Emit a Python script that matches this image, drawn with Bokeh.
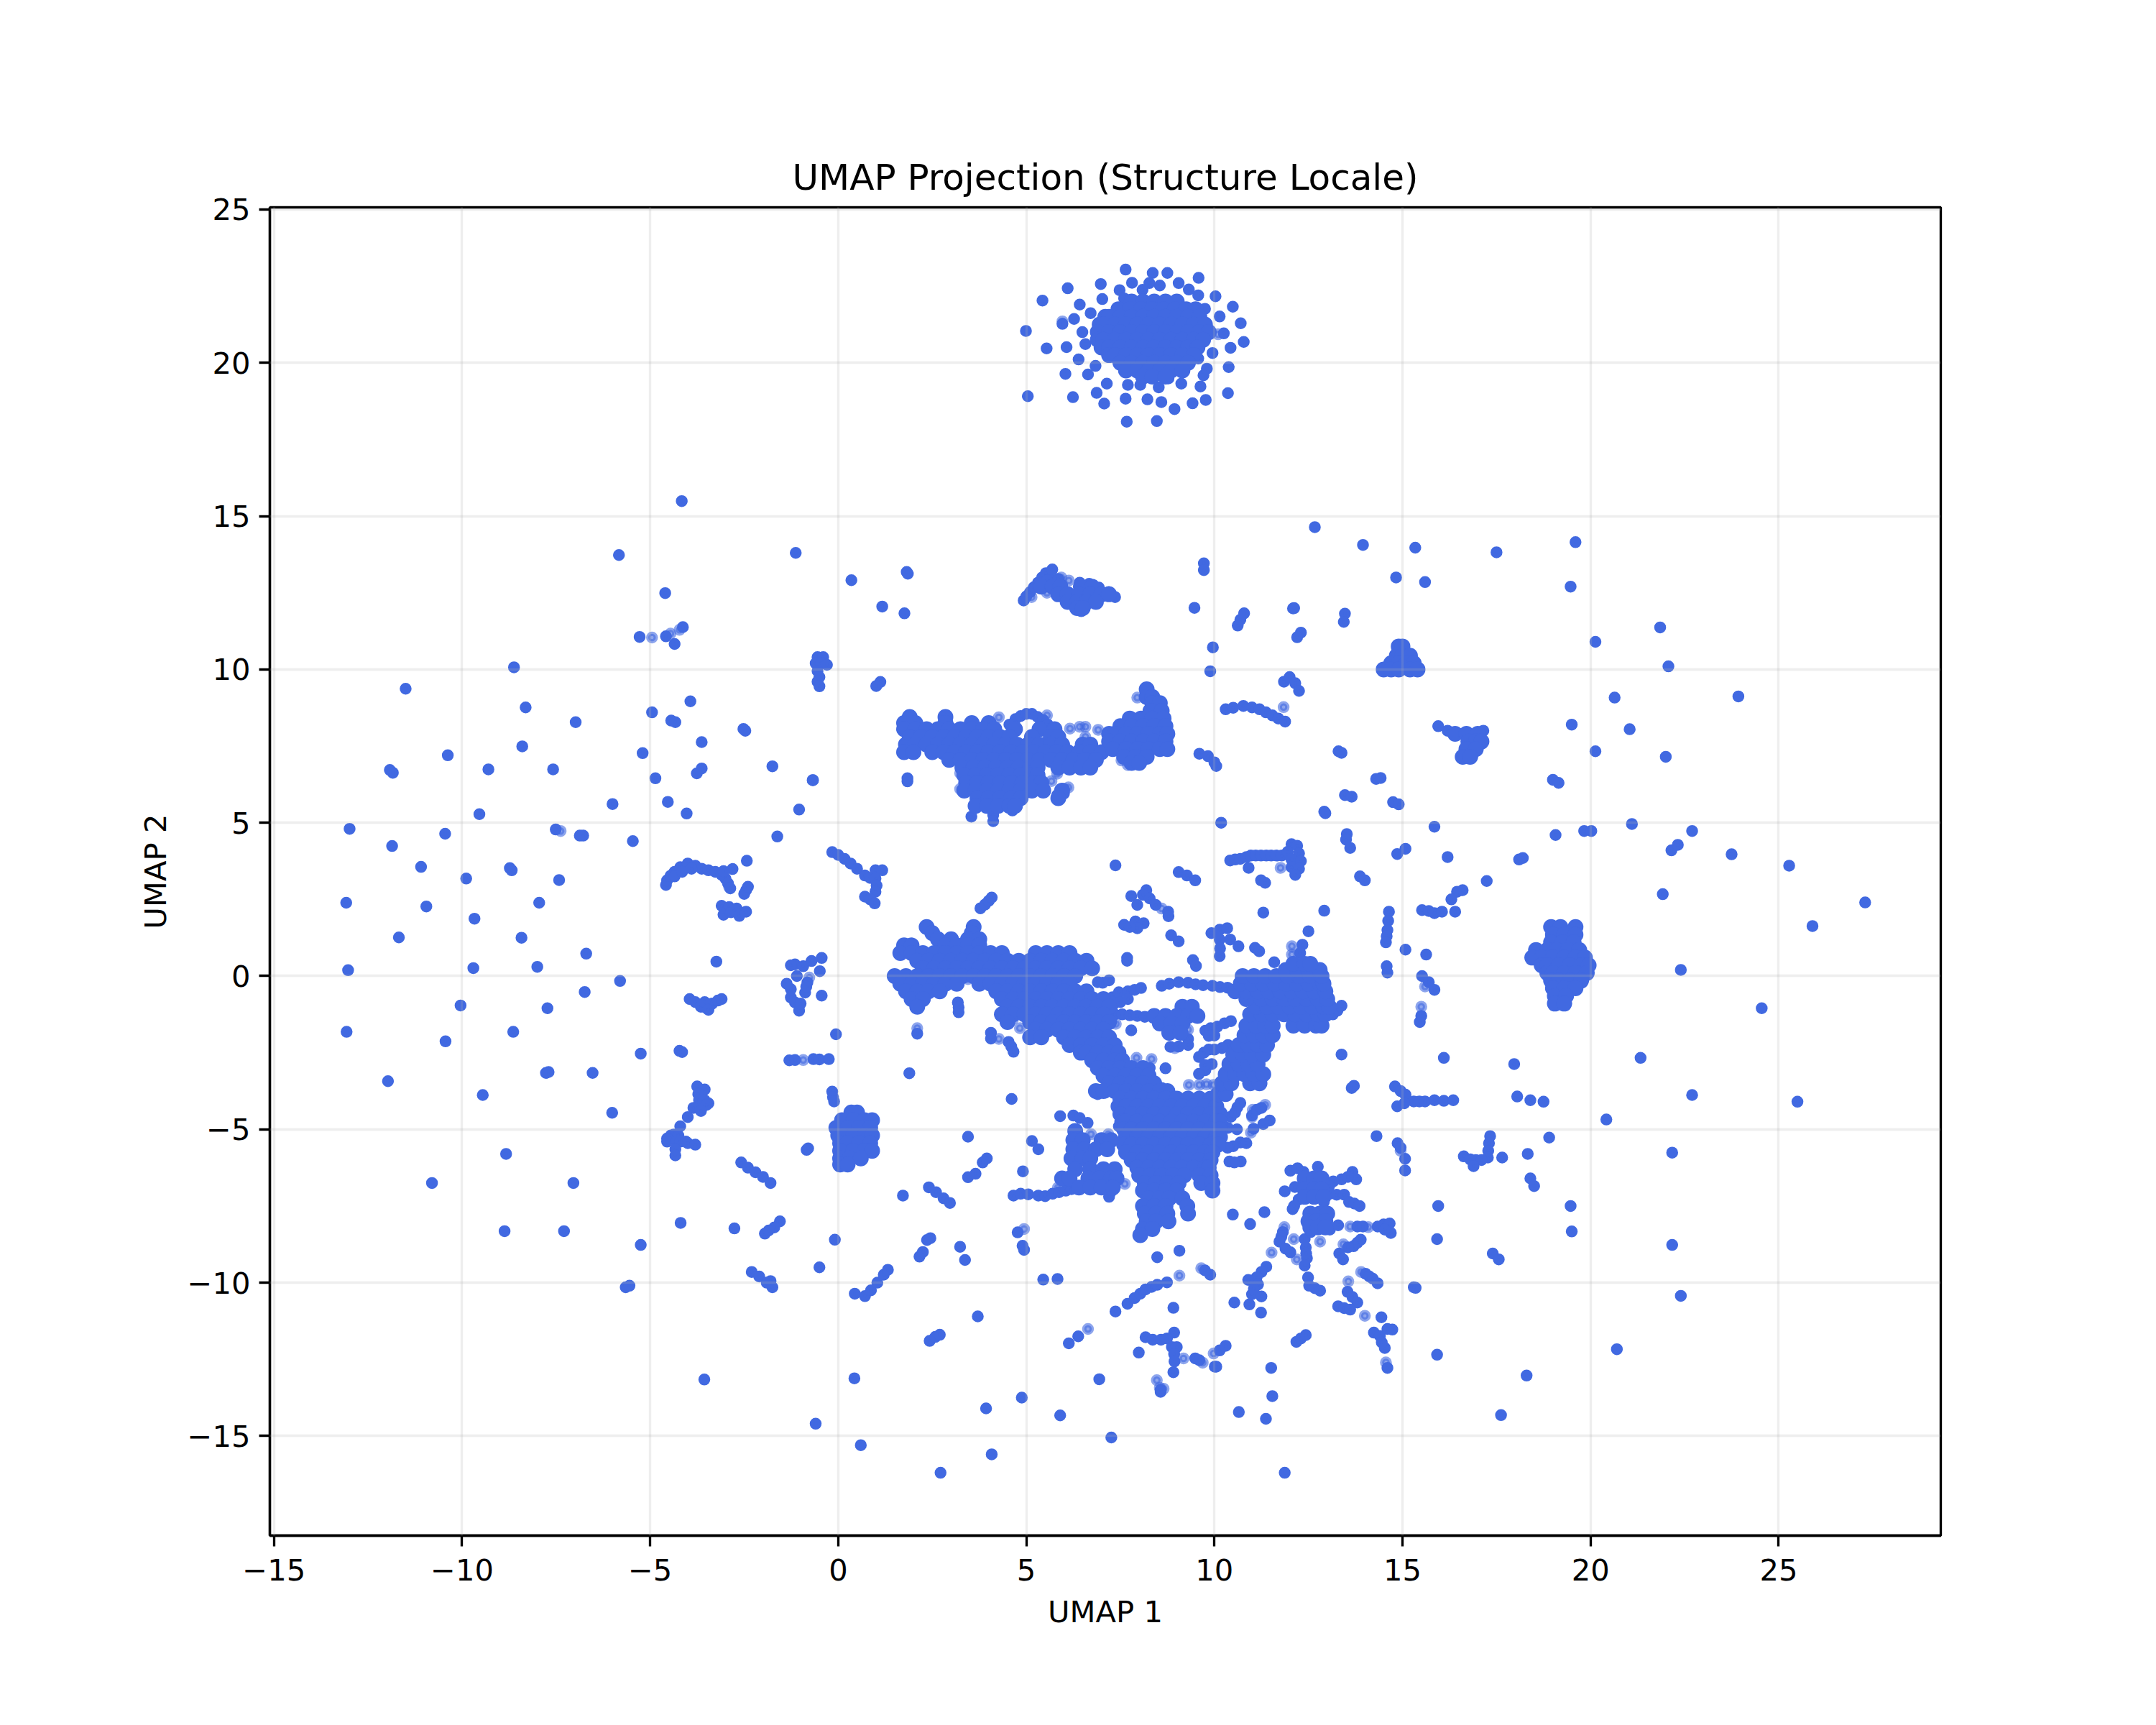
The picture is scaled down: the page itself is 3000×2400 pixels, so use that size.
from bokeh.plotting import figure
from bokeh.models import Range1d, FixedTicker
from bokeh.embed import file_html
from bokeh.resources import INLINE

x_tick_values = [-15, -10, -5, 0, 5, 10, 15, 20, 25]
y_tick_values = [-15, -10, -5, 0, 5, 10, 15, 20, 25]
tick_labels = {-15: "\u221215", -10: "\u221210", -5: "\u22125", 0: "0", 5: "5", 10: "10", 15: "15", 20: "20", 25: "25"}

# ---- rows of points: (y, [x, ...]) ----
rows_top_core = [
    (22.0, [7.8, 8.1, 8.4, 8.7, 9.0]),
    (21.75, [7.45, 7.75, 8.05, 8.35, 8.65, 8.95, 9.25, 9.5]),
    (21.5, [7.1, 7.2, 7.5, 7.8, 8.1, 8.4, 8.7, 9.0, 9.3, 9.6]),
    (21.25, [6.95, 7.05, 7.35, 7.65, 7.95, 8.25, 8.55, 8.85, 9.15, 9.45, 9.75]),
    (21.0, [6.9, 7.2, 7.5, 7.8, 8.1, 8.4, 8.7, 9.0, 9.3, 9.6, 9.85]),
    (20.75, [6.9, 7.05, 7.35, 7.65, 7.95, 8.25, 8.55, 8.85, 9.15, 9.45, 9.7]),
    (20.5, [7.0, 7.2, 7.5, 7.8, 8.1, 8.4, 8.7, 9.0, 9.3, 9.55]),
    (20.25, [7.2, 7.35, 7.65, 7.95, 8.25, 8.55, 8.85, 9.15, 9.45]),
    (20.0, [7.5, 7.8, 8.1, 8.4, 8.7, 9.0, 9.3]),
    (19.75, [7.65, 7.95, 8.25, 8.55, 8.85, 9.15]),
    (19.55, [8.1, 8.35, 8.7]),
]
rows_wedge_12 = [
    (12.7, [5.4, 5.7, 5.9, 6.45, 6.75]),
    (12.45, [5.85, 6.1, 6.4, 6.7, 7.0, 7.2]),
    (12.2, [6.1, 6.35, 6.6, 6.85]),
    (12.0, [6.35, 6.5]),
]
rows_upper_blob = [
    (8.45, [1.9, 2.85]),
    (8.25, [1.75, 2.05, 2.85, 3.55, 4.0]),
    (8.05, [1.75, 2.05, 2.35, 2.65, 2.95, 3.25, 3.55, 3.85, 4.15, 4.7, 5.35, 5.75]),
    (7.8, [1.9, 2.2, 2.5, 2.8, 3.1, 3.4, 3.7, 4.0, 4.3, 4.55, 5.15, 5.65, 5.85]),
    (7.55, [1.8, 2.05, 2.35, 2.65, 2.95, 3.25, 3.55, 3.85, 4.15, 4.45, 4.75, 5.05, 5.35, 5.65, 5.95, 6.5, 6.7]),
    (7.3, [1.75, 2.0, 2.5, 2.8, 3.1, 3.4, 3.7, 4.0, 4.3, 4.6, 4.9, 5.2, 5.5, 5.8, 6.1, 6.4, 6.7, 7.0]),
    (7.05, [2.95, 3.25, 3.55, 3.85, 4.15, 4.45, 4.75, 5.05, 5.35, 5.65, 5.95, 6.25, 6.55, 6.85]),
    (6.8, [3.3, 3.6, 3.9, 4.2, 4.5, 4.8, 5.1, 5.3, 5.85, 6.15, 6.45, 6.7]),
    (6.55, [3.35, 3.65, 3.95, 4.25, 4.55, 4.85, 5.15, 5.3]),
    (6.3, [3.4, 3.7, 4.0, 4.3, 4.6, 4.9, 5.2, 5.4]),
    (6.05, [3.35, 3.65, 3.95, 4.25, 4.55, 4.85, 5.15, 5.45, 5.95]),
    (5.8, [3.7, 4.0, 4.3, 4.6, 4.85, 5.85]),
    (5.55, [3.65, 3.95, 4.25, 4.55, 4.7]),
    (9.35, [8.2]),
    (9.1, [8.2, 8.35]),
    (8.9, [8.35, 8.55]),
    (8.65, [8.3, 8.6]),
    (8.4, [7.75, 8.05, 8.35, 8.65]),
    (8.15, [7.5, 7.8, 8.1, 8.4, 8.7]),
    (7.9, [7.2, 7.35, 7.65, 7.95, 8.25, 8.55, 8.75]),
    (7.65, [7.2, 7.5, 7.8, 8.1, 8.4, 8.7]),
    (7.4, [7.3, 7.65, 7.95, 8.25, 8.55, 8.75]),
    (7.15, [7.6, 7.9, 8.2]),
    (6.95, [7.8, 8.0]),
]
rows_main_body = [
    (1.6, [2.35, 3.6]),
    (1.4, [2.5, 3.55]),
    (1.2, [2.65, 3.0, 3.45, 3.75]),
    (1.0, [1.75, 1.95, 2.85, 3.15, 3.45, 3.75]),
    (0.75, [1.65, 1.95, 2.25, 2.55, 2.85, 3.15, 3.45, 3.75, 4.05, 4.35, 5.25, 5.55, 5.85, 6.15]),
    (0.5, [2.1, 2.4, 2.7, 3.0, 3.3, 3.6, 3.9, 4.2, 4.5, 4.8, 5.1, 5.4, 5.7, 6.0, 6.3, 6.6]),
    (0.25, [2.25, 2.55, 2.85, 3.15, 3.45, 3.75, 4.05, 4.35, 4.65, 4.95, 5.25, 5.55, 5.85, 6.15, 6.45, 6.75]),
    (0.0, [1.5, 1.8, 2.1, 2.4, 2.7, 3.0, 3.3, 3.6, 3.9, 4.2, 4.5, 4.8, 5.1, 5.4, 5.7, 6.0, 6.3]),
    (-0.25, [1.65, 1.95, 2.25, 2.55, 2.85, 3.15, 3.75, 4.05, 4.35, 4.65, 4.95, 5.25, 5.55, 5.85, 6.15]),
    (-0.5, [1.8, 2.1, 2.4, 2.7, 4.2, 4.5, 4.8, 5.1, 5.4, 5.7, 6.0, 6.3, 6.6]),
    (-0.75, [1.95, 2.25, 4.35, 4.65, 4.95, 5.25, 5.55, 5.85, 6.15, 6.45, 6.75, 7.05]),
    (-1.0, [2.1, 4.5, 4.8, 5.1, 5.4, 5.7, 6.0, 6.3, 6.6, 6.9, 7.2]),
    (-1.25, [4.35, 4.65, 4.95, 5.25, 5.55, 5.85, 6.15, 6.45, 6.75, 7.05]),
    (-1.5, [4.5, 5.1, 5.4, 5.7, 6.0, 6.3, 6.6, 6.9, 7.2]),
    (-1.75, [5.25, 5.55, 5.85, 6.15, 6.45, 6.75, 7.05]),
    (-2.0, [5.1, 5.4, 6.0, 6.3, 6.6, 6.9, 7.2]),
    (-2.25, [6.15, 6.45, 6.75, 7.05, 7.35]),
    (-2.5, [6.45, 6.6, 6.9, 7.2, 7.45]),
    (-2.75, [6.75, 7.05, 7.35, 7.55]),
    (-3.0, [6.9, 7.2, 7.5, 7.8, 8.1]),
    (-3.25, [7.05, 7.35, 7.65, 7.95, 8.25]),
    (-3.5, [7.2, 7.5, 7.8, 8.1, 8.4]),
    (-3.75, [6.85, 7.05, 7.35, 7.65, 7.95, 8.25, 8.55, 8.75]),
    (-4.0, [7.5, 7.8, 8.1, 8.4, 8.7, 9.0, 9.3, 9.6, 9.9]),
    (-4.25, [7.45, 7.65, 7.95, 8.25, 8.55, 8.85, 9.15, 9.45, 9.75, 10.05]),
    (-4.5, [7.5, 7.8, 8.1, 8.4, 8.7, 9.0, 9.3, 9.6, 9.9, 10.15]),
    (-4.75, [7.55, 7.65, 7.95, 8.25, 8.55, 8.85, 9.15, 9.45, 9.75, 10.05, 10.15]),
    (-5.0, [7.6, 7.8, 8.1, 8.4, 8.7, 9.0, 9.3, 9.6, 9.9, 10.15]),
    (-5.25, [7.65, 7.95, 8.25, 8.55, 8.85, 9.15, 9.45, 9.75, 10.05, 10.15]),
    (-5.5, [7.6, 7.8, 8.1, 8.4, 8.7, 9.0, 9.3, 9.6, 9.9, 10.1]),
    (-5.75, [7.65, 7.95, 8.25, 8.55, 8.85, 9.15, 9.45, 9.75, 9.95]),
    (-6.0, [7.8, 8.1, 8.4, 8.7, 9.0, 9.3, 9.6, 9.9]),
    (-6.25, [7.95, 8.25, 8.55, 8.85, 9.15, 9.45, 9.75, 9.85]),
    (-6.5, [8.0, 8.3, 8.6, 8.9, 9.2, 9.6, 9.9]),
    (-6.75, [8.15, 8.45, 8.75, 9.05, 9.65, 9.95]),
    (-7.0, [8.1, 8.4, 8.7, 9.0, 9.95]),
    (-7.25, [8.25, 8.55, 8.8, 9.15]),
    (-7.5, [8.1, 8.4, 8.7, 9.28]),
    (-7.75, [8.15, 8.45, 8.75, 9.3]),
    (-8.0, [8.2, 8.45, 8.78]),
    (-8.25, [8.1, 8.35]),
    (-8.45, [8.03]),
]
rows_right_wing = [
    (-3.85, [10.1, 10.3]),
    (-3.5, [10.2, 10.45, 10.95, 11.2]),
    (-3.2, [10.3, 10.55, 10.8, 11.05, 11.3]),
    (-2.87, [10.4, 10.65, 10.9, 11.15]),
    (-2.56, [10.5, 10.75, 11.0, 11.3]),
    (-2.25, [10.65, 10.9, 11.15, 11.4]),
    (-1.93, [10.8, 11.05, 11.3, 11.55]),
    (-1.62, [10.85, 11.1, 11.35, 11.55, 12.1, 12.4, 12.7, 12.85]),
    (-1.25, [10.95, 11.25, 11.55, 11.85, 12.15, 12.45, 12.75, 12.95]),
    (-1.0, [11.1, 11.4, 11.7, 12.0, 12.3, 12.6, 12.9, 13.05]),
    (-0.75, [10.85, 11.25, 11.55, 11.85, 12.15, 12.45, 12.75, 13.0]),
    (-0.5, [10.55, 10.85, 11.15, 11.45, 11.75, 12.05, 12.35, 12.65, 12.95]),
    (-0.25, [10.7, 11.0, 11.3, 11.6, 11.9, 12.2, 12.5, 12.8, 12.9]),
    (0.0, [10.75, 11.05, 11.35, 11.65, 11.95, 12.25, 12.55, 12.85]),
    (0.2, [11.9, 12.2, 12.5, 12.8]),
    (0.4, [12.1, 12.4, 12.55]),
]
rows_inner_blob = [
    (-1.0, [9.15, 9.4]),
    (-1.3, [8.4, 8.7, 9.0, 9.3, 9.55]),
    (-1.55, [8.55, 8.85, 9.15]),
    (-1.85, [8.8, 9.1]),
]
rows_left_adjunct = [
    (-5.05, [6.3]),
    (-5.35, [6.25, 6.5, 7.0, 7.25]),
    (-5.65, [6.25, 6.55, 6.85, 7.15]),
    (-5.95, [6.2, 6.5, 6.7]),
    (-6.3, [6.3, 6.7, 7.05, 7.35]),
    (-6.6, [5.95, 6.15, 6.65, 6.95, 7.25, 7.4]),
    (-6.9, [6.4, 6.7, 7.0, 7.3]),
]
rows_left_square = [
    (-4.45, [0.35, 0.5]),
    (-4.7, [0.1, 0.4, 0.7, 0.9]),
    (-4.95, [-0.05, 0.25, 0.55, 0.85]),
    (-5.2, [0.0, 0.1, 0.4, 0.7, 0.9]),
    (-5.45, [0.05, 0.25, 0.55, 0.85]),
    (-5.7, [0.05, 0.4, 0.7, 0.9]),
    (-5.95, [0.05, 0.3, 0.6]),
    (-6.15, [0.05, 0.25]),
]
rows_right_cluster = [
    (1.6, [18.95, 19.2, 19.6]),
    (1.35, [19.0, 19.3, 19.6]),
    (1.1, [18.95, 19.25, 19.55]),
    (0.85, [18.55, 18.85, 19.1, 19.4, 19.7]),
    (0.6, [18.45, 18.7, 19.0, 19.3, 19.6, 19.85]),
    (0.35, [18.7, 18.85, 19.15, 19.45, 19.75, 19.95]),
    (0.1, [18.85, 19.0, 19.3, 19.6, 19.9]),
    (-0.15, [18.95, 19.15, 19.45, 19.75]),
    (-0.4, [19.0, 19.3, 19.6]),
    (-0.65, [19.05, 19.35]),
    (-0.9, [19.05, 19.3]),
]
rows_star_blobs = [
    (-6.6, [12.4, 12.65, 12.85]),
    (-6.95, [12.4, 12.65, 12.85]),
    (-7.2, [12.4, 12.65, 12.9]),
    (-7.75, [12.55, 12.8, 13.0]),
    (-8.0, [12.5, 12.7, 12.95]),
    (-8.2, [12.55, 12.75, 12.95]),
]
rows_blob_15 = [
    (10.75, [14.9, 15.0]),
    (10.45, [14.85, 15.0, 15.2]),
    (10.2, [14.7, 14.9, 15.1, 15.3]),
    (10.0, [14.5, 14.7, 14.9, 15.2, 15.4]),
]
rows_blob_17 = [
    (7.9, [16.4, 16.7, 17.0]),
    (7.65, [16.75, 16.95, 17.1]),
    (7.4, [16.7, 16.95]),
    (7.15, [16.6, 16.8]),
]

# ---- strands, arcs and isolated points: (x, y) ----
points_top_ring = [
    (4.99, 21.04), (5.04, 18.91), (5.43, 22.03), (6.10, 22.43), (5.54, 20.47), (6.07, 20.51), (5.96, 21.27),
    (6.27, 21.43), (6.42, 21.90), (6.71, 21.62), (6.49, 21.00), (6.57, 20.61), (6.39, 20.11), (6.04, 19.64),
    (6.64, 19.62), (6.84, 19.90), (6.24, 18.88), (6.87, 19.02), (7.07, 18.67), (7.14, 19.32), (7.64, 18.83),
    (7.70, 19.28), (8.03, 19.28), (7.67, 18.08), (8.47, 18.10), (8.22, 18.81), (8.59, 18.72), (8.94, 18.49),
    (9.42, 18.68), (9.77, 18.79), (10.36, 19.01), (9.63, 19.23), (9.12, 19.32), (8.52, 19.20), (8.78, 19.49),
    (9.71, 19.59), (9.80, 19.81), (10.38, 19.86), (10.43, 20.49), (9.95, 20.32), (9.57, 20.14), (10.78, 20.68),
    (10.70, 21.29), (10.25, 20.96), (10.49, 21.83), (10.14, 21.51), (10.03, 22.17), (9.75, 21.76), (9.57, 22.2),
    (9.58, 22.77), (9.32, 22.39), (9.05, 22.6), (8.75, 22.93), (8.36, 22.93), (8.55, 22.52), (8.27, 22.6),
    (8.09, 22.38), (7.81, 22.61), (7.64, 23.04), (7.48, 22.37), (6.98, 22.57), (7.02, 22.08), (7.6, 22.1),
]
points_left_field = [
    (-4.16, 15.49), (-5.83, 13.73), (-1.13, 13.80), (-4.60, 12.49), (0.35, 12.91), (1.85, 13.12), (1.82, 13.18),
    (1.17, 12.05), (1.76, 11.83), (-5.28, 11.06), (-4.58, 11.08), (-4.35, 10.83), (-4.13, 11.38), (-8.62, 10.07),
    (-11.5, 9.37), (-8.31, 8.76), (-6.98, 8.28), (-3.93, 8.96), (-4.95, 8.6), (-4.44, 8.33), (-4.33, 8.28),
    (-2.52, 8.06), (-2.47, 8.0), (-3.63, 7.63), (-8.4, 7.49), (-10.38, 7.2), (-5.2, 7.27), (-9.3, 6.74),
    (-11.92, 6.72), (-11.84, 6.63), (-7.58, 6.74), (-3.63, 6.77), (-3.76, 6.61), (-1.75, 6.84), (-4.86, 6.45),
    (-0.67, 6.39), (-4.53, 5.68), (-6.0, 5.61), (-4.03, 5.3), (-9.54, 5.28), (-1.04, 5.43), (-12.99, 4.8),
    (-7.51, 4.78), (-6.87, 4.58), (-6.78, 4.58), (-10.45, 4.64), (-11.86, 4.24), (-5.46, 4.40), (-1.62, 4.55),
    (-11.09, 3.56), (-8.73, 3.52), (-8.68, 3.45), (-9.89, 3.18), (-7.42, 3.13), (-13.08, 2.39), (-10.95, 2.27),
    (-7.95, 2.39), (-9.67, 1.87), (-11.68, 1.26), (-8.42, 1.25), (-8.0, 0.3), (-6.7, 0.73), (-9.7, 0.26),
    (-13.03, 0.19), (-13.07, -1.82), (-11.97, -3.43), (-10.8, -6.75), (-9.45, -3.88), (-10.44, -2.13),
    (-10.04, -0.96), (-8.83, -5.8), (-8.87, -8.32), (-8.64, -1.82), (-7.73, -1.05), (-7.77, -3.16), (-7.7, -3.13),
    (-6.53, -3.16), (-6.74, -0.52), (-5.8, -0.16), (-7.04, -6.75), (-7.29, -8.32), (-6.01, -4.46), (-5.25, -2.53),
    (-4.22, -2.44), (-4.15, -2.48), (-5.25, -8.77), (-4.19, -8.05), (-5.65, -10.15), (-5.55, -10.1), (-3.56, -13.16),
    (-2.76, -8.23), (-3.24, 0.47),
]
points_left_arcs = [
    (-4.58, 2.97), (-4.55, 3.12), (-4.46, 3.27), (-4.35, 3.4), (-4.2, 3.55), (-4.0, 3.67), (-3.8, 3.6), (-3.63, 3.5),
    (-4.35, 3.25), (-4.15, 3.4), (-3.9, 3.5),
    (-3.45, 3.45), (-3.27, 3.4), (-3.1, 3.3), (-3.0, 3.18), (-2.93, 3.02), (-2.87, 2.86), (-2.81, 3.49), (-3.05, 3.42),
    (-2.5, 2.68), (-2.45, 2.8), (-2.4, 2.91), (-2.43, 3.76), (-3.1, 2.29), (-2.9, 2.25), (-2.7, 2.2), (-2.45, 2.1),
    (-2.63, 1.96), (-3.05, 2.0), (-2.85, 2.08), (-2.76, 2.14),
    (-0.55, 10.4), (-0.4, 10.4), (-0.6, 10.2), (-0.45, 10.2), (-0.3, 10.15), (-0.55, 9.95), (-0.5, 9.75),
    (-0.55, 9.6), (-0.5, 9.45), (1.12, 9.59), (1.01, 9.46), (1.84, 6.35), (1.84, 6.45), (-0.68, 6.39),
    (-0.16, 4.04), (0.0, 3.95), (0.17, 3.82), (0.33, 3.67), (0.5, 3.5), (0.71, 3.28), (0.85, 3.2), (0.99, 3.45),
    (1.17, 3.45), (0.99, 3.18), (1.02, 2.95), (0.99, 2.75), (0.71, 2.59), (0.85, 2.5), (0.97, 2.37),
    (3.78, 2.21), (3.9, 2.33), (4.0, 2.45), (4.08, 2.56),
    (-1.15, 0.38), (-0.93, 0.32), (-0.71, 0.49), (-0.44, 0.59), (-0.49, 0.16), (-0.82, -0.21), (-0.88, -0.54),
    (-0.44, -0.64), (-1.15, -0.86), (-1.04, -1.13), (-1.26, -0.43), (-1.1, 0.0), (-1.26, 0.35), (-1.37, -0.25),
    (-1.26, -0.7), (-1.0, -0.9), (-0.85, -0.35),
    (-1.3, -2.75), (-1.15, -2.74), (-0.66, -2.71), (-0.5, -2.72), (-0.25, -2.71), (-0.06, -1.9),
    (-0.16, -3.77), (-0.14, -3.95), (-0.11, -4.09), (-0.84, -5.67), (-0.8, -5.62),
    (-3.95, -0.75), (-3.8, -0.85), (-3.65, -1.0), (-3.5, -1.05), (-3.35, -0.9), (-3.2, -0.8), (-3.1, -0.75),
    (-3.55, -0.85), (-3.45, -1.1),
    (-3.75, -3.6), (-3.55, -3.7), (-3.72, -3.85), (-3.7, -4.05), (-3.55, -4.05), (-3.45, -4.15), (-3.5, -4.2), (-3.85, -4.3), (-3.65, -4.4),
    (-4.0, -4.6), (-4.2, -4.9), (-4.37, -5.17), (-4.45, -5.2), (-4.25, -5.2), (-4.55, -5.3), (-4.55, -5.4), (-4.3, -5.4),
    (-4.2, -5.4), (-4.05, -5.4), (-4.0, -5.45), (-3.8, -5.5), (-4.33, -5.65), (-4.33, -5.85),
    (-2.58, -6.08), (-2.4, -6.25), (-2.2, -6.4), (-2.0, -6.55), (-1.8, -6.75), (-1.55, -8.0), (-1.7, -8.2),
    (-1.95, -8.4), (-1.85, -8.3), (-2.3, -9.65), (-2.1, -9.8), (-1.9, -10.0), (-1.75, -10.15), (-1.8, -9.95),
    (-0.5, -9.5), (-0.09, -8.6), (0.43, -13.12), (-0.6, -14.6), (0.6, -15.3), (2.72, -16.2), (4.08, -15.6),
    (3.93, -14.1), (4.88, -13.75), (5.9, -14.33), (7.26, -15.05), (6.94, -13.15), (11.87, -16.2),
    (0.44, -10.36), (0.71, -10.44), (0.87, -10.25), (1.04, -10.0), (1.21, -9.74), (1.32, -9.58),
]
points_upper_misc = [
    (4.93, 12.25), (5.0, 12.38), (5.1, 12.52), (5.2, 12.68), (5.31, 12.83), (5.42, 13.0), (5.52, 13.14), (5.69, 13.26),
    (5.69, 12.91), (5.8, 12.75), (5.91, 12.6), (6.0, 12.4), (6.08, 12.2), (6.25, 12.09), (6.46, 11.9), (6.46, 12.09),
    (6.42, 12.83), (6.67, 12.79), (6.93, 12.67), (7.19, 12.52), (7.36, 12.36), (6.85, 12.28), (6.42, 12.36),
    (6.08, 12.44), (5.85, 12.95), (6.25, 12.35), (6.67, 12.52), (5.55, 12.9), (6.2, 12.2), (6.65, 12.2), (7.05, 12.4),
    (5.95, 12.75), (6.55, 12.6),
    (9.72, 13.46), (9.72, 13.24), (9.47, 12.01), (9.96, 10.72), (9.89, 9.94), (10.79, 11.83), (10.69, 11.62),
    (10.62, 11.43), (12.09, 11.99), (12.3, 11.2), (12.2, 11.05), (13.47, 11.82), (13.44, 11.55),
    (9.6, 7.25), (9.83, 7.17), (10.0, 6.97), (10.05, 6.85),
    (10.3, 8.7), (10.5, 8.75), (10.77, 8.81), (11.0, 8.76), (11.2, 8.7), (11.37, 8.6), (11.54, 8.5), (11.7, 8.4), (11.88, 8.3),
    (4.71, 8.38), (4.85, 8.48), (5.0, 8.55), (5.15, 8.55), (5.3, 8.45), (5.45, 8.35), (5.57, 8.2), (5.72, 8.05), (5.82, 7.9),
    (4.55, 8.2), (6.0, 7.55),
    (6.0, 5.95), (5.82, 5.9), (6.0, 6.1),
    (3.54, 5.2), (4.12, 5.25), (4.12, 5.05), (4.63, 5.4), (3.65, 5.5),
    (11.85, 9.6), (12.0, 9.75), (12.15, 9.55), (12.25, 9.3),
    (14.83, 13.0), (15.34, 13.97), (15.6, 12.85), (13.95, 14.06), (12.67, 14.64), (17.5, 13.82), (19.6, 14.15),
    (19.47, 12.7), (21.85, 11.37), (20.13, 10.9), (22.07, 10.1), (20.64, 9.08), (23.93, 9.12), (19.5, 8.2),
    (21.04, 8.05), (20.13, 7.33), (22.0, 7.15), (12.12, 12.0),
    (15.95, 8.15), (16.2, 8.0), (16.5, 7.9), (16.8, 7.8), (17.0, 7.75), (17.15, 8.0), (17.1, 7.6), (16.9, 7.4),
    (16.7, 7.3), (16.6, 7.1), (16.85, 7.15), (17.0, 7.45), (16.75, 7.55),
    (13.3, 7.33), (13.38, 7.28), (13.47, 5.9), (13.65, 5.85), (12.92, 5.36), (14.3, 6.43), (14.42, 6.46), (14.75, 5.67),
    (14.9, 5.6), (15.85, 4.87), (14.86, 3.98), (15.08, 4.15), (16.2, 3.88), (17.24, 3.1), (18.1, 3.8), (18.2, 3.85),
    (19.07, 4.6), (19.83, 4.73), (20.02, 4.73), (21.1, 4.96), (22.15, 4.1), (22.32, 4.28), (22.7, 4.73), (23.75, 3.97),
    (25.28, 3.6), (25.9, 1.63), (27.3, 2.4), (21.92, 2.67), (19.0, 6.4), (19.15, 6.3),
]
points_central_misc = [
    (7.37, 3.61), (10.18, 5.0), (12.95, 5.31), (13.52, 4.63), (13.5, 4.45), (13.61, 4.18),
    (10.42, 3.77), (10.55, 3.8), (10.69, 3.82), (10.85, 3.88), (10.97, 3.93), (11.1, 3.93), (11.24, 3.93), (11.38, 3.93),
    (11.51, 3.93), (11.65, 3.93), (11.79, 3.93), (12.05, 4.3), (12.2, 4.25), (11.95, 4.05), (12.25, 4.0), (12.05, 3.8),
    (12.3, 3.75), (12.05, 3.55), (12.25, 3.5), (12.15, 3.3), (10.91, 3.53), (11.24, 3.12), (11.35, 3.04),
    (13.87, 3.25), (14.0, 3.12), (11.3, 2.07), (12.92, 2.13), (9.05, 3.39), (9.27, 3.28), (9.49, 3.12),
    (7.79, 2.61), (7.95, 2.32), (8.19, 2.8), (8.1, 2.65), (8.28, 2.53), (8.44, 2.32), (8.77, 2.1), (8.78, 1.95),
    (7.6, 1.67), (7.9, 1.78), (8.12, 1.72), (7.95, 1.56), (7.75, 1.6), (8.85, 1.33), (9.05, 1.13),
    (9.92, 1.4), (10.14, 1.51), (10.34, 1.56), (10.14, 1.19), (10.42, 1.19), (10.64, 0.97), (10.14, 0.65), (10.15, 0.9),
    (11.08, 0.92), (11.19, 0.81), (12.5, 1.46), (12.34, 1.02), (12.28, 0.75), (11.59, 0.45), (7.68, 0.59), (7.68, 0.5),
    (9.43, 0.52), (9.51, 0.33), (13.27, -1.13), (13.38, -0.97), (13.15, -1.25), (13.38, -2.56), (13.71, -3.58), (13.65, -3.65),
    (14.31, -5.22), (15.08, 0.86), (15.63, 0.7), (14.58, 0.32), (14.6, 0.11), (14.64, 2.1), (14.62, 1.8), (14.6, 1.5), (14.58, 1.3),
    (14.56, 1.1), (15.52, 2.15), (15.7, 2.12), (15.85, 2.05), (16.05, 2.1), (16.4, 2.1), (16.45, 2.75), (16.6, 2.8), (16.3, 2.5),
    (15.52, 0.0), (15.7, -0.2), (15.85, -0.45), (15.46, -1.5), (15.5, -1.3),
    (2.1, -1.88), (3.2, -1.18), (3.18, -0.86), (3.2, -1.02), (4.06, -2.04), (4.06, -1.85), (4.53, -2.15), (4.6, -2.3), (4.66, -2.47),
    (1.89, -3.17), (4.61, -4.01), (5.9, -4.57), (3.45, -5.24), (5.15, -5.38), (5.32, -5.65),
    (3.45, -6.56), (3.65, -6.45), (3.84, -6.08), (3.95, -5.95), (4.91, -6.37), (1.72, -7.16), (2.41, -6.89), (2.6, -7.05),
    (2.8, -7.25), (2.97, -7.4), (4.77, -8.36), (4.94, -8.93), (4.9, -8.8), (3.24, -8.83), (3.37, -9.26),
    (2.36, -8.61), (2.45, -8.55), (2.16, -9.15), (2.25, -9.0), (5.45, -9.9), (5.83, -9.88), (2.43, -11.9), (2.58, -11.77), (2.7, -11.7),
    (3.71, -11.1), (6.13, -11.98), (6.38, -11.75), (7.37, -10.94), (7.69, -10.69), (7.88, -10.5), (8.03, -10.36), (8.17, -10.22),
    (8.33, -10.14), (8.48, -10.07), (8.74, -9.99), (8.91, -10.82), (9.07, -8.96), (8.48, -9.17), (9.89, -9.74), (9.75, -9.6),
    (8.17, -11.78), (8.36, -11.86), (8.58, -11.86), (8.93, -11.63), (8.74, -11.82), (8.87, -12.1), (9.0, -12.1), (8.93, -12.33),
    (8.94, -12.57), (8.91, -12.92), (7.99, -12.28), (8.57, -13.56), (8.57, -13.5),
    (9.49, -12.47), (9.6, -12.53), (10.01, -12.74), (10.05, -12.74), (10.14, -12.21), (10.3, -12.06), (11.51, -12.78),
    (11.54, -13.7), (10.65, -14.22), (11.37, -14.44), (12.18, -11.93), (12.3, -11.82), (12.43, -11.71),
]
points_core_adjuncts = [
    (6.9, -3.85), (7.1, -3.8),
    (6.85, -0.85), (7.05, -0.75), (7.29, -0.69), (7.46, -0.53), (7.7, -0.5), (7.88, -0.45), (8.05, -0.39),
    (7.3, -0.95), (7.5, -0.85), (7.7, -0.75),
    (6.9, -0.2), (7.03, -0.22), (7.2, -0.14),
    (8.6, -0.32), (8.8, -0.25), (9.05, -0.2), (9.3, -0.22), (9.5, -0.27), (9.7, -0.3), (9.95, -0.32), (10.15, -0.36), (10.35, -0.38),
    (7.35, -1.25), (7.55, -1.25), (7.75, -1.28), (7.95, -1.3), (8.15, -1.33), (7.79, -1.77), (8.83, -2.31), (9.05, -2.3),
    (9.3, -2.05), (9.3, -2.25), (8.28, -3.0), (8.7, -3.01), (8.6, -3.65), (8.8, -3.75),
    (9.76, -1.78), (9.9, -1.7), (10.08, -1.65), (10.27, -1.54), (10.44, -1.47), (10.0, -1.94), (9.85, -1.95),
    (10.36, -2.25), (10.2, -2.35), (10.0, -2.4), (9.85, -2.4), (9.72, -2.5), (9.59, -2.64),
    (9.76, -3.07), (9.93, -2.87), (9.59, -3.19), (9.75, -2.9),
    (10.61, -4.28), (10.69, -4.14), (10.44, -4.59), (10.55, -4.45), (11.47, -4.71), (11.3, -4.83), (11.04, -4.98),
    (10.69, -5.43), (10.85, -5.45), (10.5, -5.55), (10.35, -5.6), (10.53, -6.08), (10.4, -6.05), (10.7, -6.05), (10.36, -4.95),
    (10.6, -5.0), (11.0, -4.55), (11.13, -4.36), (11.25, -4.3), (6.42, -4.63), (6.63, -4.79), (6.25, -4.55), (7.46, -4.9),
    (4.66, -7.16), (4.85, -7.1), (5.05, -7.12), (5.32, -7.16), (5.5, -7.18), (5.7, -7.1), (5.87, -7.05), (6.05, -7.0), (6.2, -6.95),
    (6.4, -6.94), (7.24, -7.05), (7.2, -7.2),
]
points_lower_right = [
    (12.75, -6.22), (12.02, -6.35), (12.21, -6.27), (12.37, -6.39), (13.67, -6.39), (13.77, -6.63), (13.38, -6.63), (13.16, -6.7),
    (13.55, -6.55), (13.05, -6.85), (12.14, -6.88), (11.87, -7.02), (12.24, -7.29), (12.91, -7.37), (13.07, -7.1), (13.25, -7.13),
    (13.45, -7.13), (13.58, -7.37), (13.72, -7.42), (13.86, -7.5), (12.08, -7.6), (12.12, -7.5), (13.07, -8.27), (13.29, -8.13),
    (12.4, -8.58), (12.56, -8.35), (12.43, -8.85), (12.46, -9.2), (12.4, -9.44), (12.44, -9.05),
    (11.82, -8.35), (11.78, -8.5), (11.73, -8.66), (11.89, -8.89), (12.02, -9.01),
    (10.49, -7.78), (10.95, -8.09), (11.33, -7.7),
    (13.8, -8.17), (13.95, -8.17), (14.34, -8.17), (14.5, -8.1), (14.66, -8.07), (14.69, -8.38), (14.53, -8.27),
    (13.89, -8.6), (13.8, -8.7), (13.7, -8.81), (13.55, -8.85), (13.32, -9.05), (13.42, -9.24),
    (14.02, -9.71), (14.12, -9.8), (14.21, -9.87), (14.34, -10.02), (13.54, -10.3), (13.67, -10.47), (13.8, -10.65),
    (13.29, -10.77), (13.45, -10.83), (13.61, -10.88), (14.44, -11.13), (14.24, -11.63), (14.4, -11.74), (14.6, -11.51), (14.73, -11.53),
    (14.53, -12.13), (14.45, -11.95), (14.6, -12.78),
    (12.49, -9.83), (12.52, -10.1), (12.67, -10.18), (12.81, -10.26),
    (11.38, -9.48), (11.25, -9.65), (11.12, -9.83), (10.9, -9.91), (11.16, -10.06), (11.0, -10.38), (11.05, -10.2), (11.25, -10.45),
    (10.93, -10.71), (11.24, -10.98), (10.53, -10.65), (15.07, -5.96), (15.07, -6.34), (14.87, -5.45), (14.95, -5.6),
    (15.35, -10.17), (15.92, -12.35), (18.3, -13.03), (17.62, -14.32), (20.7, -12.17), (22.4, -10.43), (22.17, -8.77), (22.17, -5.76), (20.42, -4.68),
    (22.7, -3.88), (21.33, -2.67), (25.5, -4.1), (24.55, -1.05), (22.4, 0.2), (15.3, -10.15), (17.4, -9.05), (17.56, -9.24),
    (19.5, -8.33), (19.47, -7.5), (18.4, -6.6), (18.5, -6.85), (15.95, -7.5), (15.92, -8.58),
    (18.9, -5.27), (18.33, -5.8), (17.33, -5.22), (17.3, -5.45), (17.28, -5.7), (17.27, -5.92), (16.63, -5.88), (16.95, -6.0), (16.8, -5.98), (17.1, -6.0),
    (17.65, -5.92), (16.89, -6.2),
    (14.8, -3.6), (14.95, -3.75), (15.08, -3.87), (15.3, -4.09), (15.45, -4.09), (15.6, -4.09), (15.85, -4.05), (16.1, -4.07),
    (16.35, -4.05), (14.86, -4.25), (15.05, -4.15),
    (18.05, -3.93), (18.4, -4.05), (18.75, -4.1), (17.97, -2.87), (16.1, -2.67),
]
# lighter, single-pass points
faint_points = [
    (-4.95, 11.04), (-4.46, 11.17), (-4.22, 11.29), (-7.38, 4.73), (5.96, 21.35), (10.1, 20.93),
    (5.55, 12.5), (5.14, 12.36), (5.93, 13.0), (6.13, 12.9), (3.24, 6.62), (3.24, 6.1), (5.82, 6.6), (5.67, 6.36), (6.12, 6.15),
    (6.16, 8.07), (6.42, 8.13), (6.57, 8.13), (6.57, 7.8), (6.91, 8.03), (7.53, 7.03), (7.7, 6.88), (7.95, 9.08),
    (11.84, 8.77), (4.27, 8.44), (5.55, 8.5), (11.76, 3.53), (8.6, 2.2), (12.06, 0.97), (12.06, 0.7),
    (3.45, -0.1), (4.83, -1.7), (4.65, -1.4), (4.27, -2.05), (2.1, -1.7), (7.38, -1.56), (7.93, -2.67), (8.33, -2.71),
    (9.32, -3.55), (9.6, -3.55), (9.79, -3.53), (9.98, -3.55), (9.3, -1.75), (8.95, -2.35), (11.02, -4.36), (11.35, -4.2),
    (11.0, -4.6), (10.97, -5.11), (6.72, -5.16), (7.18, -5.16), (7.62, -6.78), (4.94, -8.25), (9.07, -9.77), (9.65, -9.53),
    (15.6, -0.34), (15.5, -1.0), (14.95, -5.7), (11.52, -9.02), (11.86, -8.19), (12.11, -8.58), (12.81, -8.66), (12.19, -9.24),
    (13.61, -8.17), (14.09, -8.19), (13.43, -8.75), (13.56, -9.96), (14.0, -11.08), (14.56, -12.6), (13.9, -9.65), (6.64, -11.51),
    (9.18, -12.47), (9.69, -12.61), (9.98, -12.31), (8.47, -13.18), (8.55, -13.43), (8.65, -13.46), (-0.93, -2.74),
    (-0.77, -0.05), (-2.9, 2.9), (5.84, -6.9),
]

dense_x, dense_y = [], []
for rows in (rows_top_core, rows_wedge_12, rows_upper_blob, rows_main_body, rows_right_wing, rows_inner_blob,
             rows_left_adjunct, rows_left_square, rows_right_cluster, rows_star_blobs, rows_blob_15, rows_blob_17):
    for y, xs in rows:
        for x in xs:
            dense_x.append(x)
            dense_y.append(y)
solid_x, solid_y = [], []
for points in (points_top_ring, points_left_field, points_left_arcs, points_upper_misc, points_central_misc,
               points_core_adjuncts, points_lower_right):
    for x, y in points:
        solid_x.append(x)
        solid_y.append(y)
faint_x = [pt[0] for pt in faint_points]
faint_y = [pt[1] for pt in faint_points]

FONT = "DejaVu Sans"
p = figure(
    frame_width=2325, frame_height=1848,
    min_border_left=375, min_border_right=292, min_border_top=288, min_border_bottom=256,
    x_range=Range1d(-15.11, 29.31), y_range=Range1d(-18.25, 25.07),
    output_backend="svg", toolbar_location=None,
    title="UMAP Projection (Structure Locale)",
    x_axis_label="UMAP 1", y_axis_label="UMAP 2",
    background_fill_color="white", border_fill_color="white",
)
p.title.text_font = FONT
p.title.text_font_size = "50px"
p.title.text_font_style = "normal"
p.title.text_color = "black"
p.title.align = "center"
p.title.standoff = 25

p.outline_line_color = "black"
p.outline_line_width = 3.33
p.outline_line_alpha = 1

for ax, ticks in ((p.xaxis[0], x_tick_values), (p.yaxis[0], y_tick_values)):
    ax.ticker = FixedTicker(ticks=ticks)
    ax.major_label_overrides = tick_labels
    ax.major_label_text_font = FONT
    ax.major_label_text_font_size = "41.67px"
    ax.major_label_text_color = "black"
    ax.axis_label_text_font = FONT
    ax.axis_label_text_font_size = "41.67px"
    ax.axis_label_text_font_style = "normal"
    ax.axis_label_text_color = "black"
    ax.major_tick_in = 0
    ax.major_tick_out = 15
    ax.major_tick_line_width = 3.33
    ax.major_tick_line_color = "black"
    ax.minor_tick_line_color = None
    ax.axis_line_width = 3.33
    ax.axis_line_color = "black"
    ax.major_label_standoff = 12
p.yaxis[0].major_label_orientation = "horizontal"
p.xaxis[0].major_label_standoff = 17
p.xaxis[0].axis_label_standoff = 16
p.yaxis[0].axis_label_standoff = 17

for g, ticks in ((p.xgrid[0], x_tick_values), (p.ygrid[0], y_tick_values)):
    g.ticker = FixedTicker(ticks=ticks)
    g.grid_line_color = "#b0b0b0"
    g.grid_line_alpha = 0.22
    g.grid_line_width = 3.33
    g.level = "annotation"

BLUE = "#4169E1"
p.scatter(faint_x, faint_y, size=10.5, marker="circle", fill_color=BLUE, line_color=BLUE,
          fill_alpha=0.6, line_alpha=0.6, line_width=6)
p.scatter(solid_x, solid_y, size=10.5, marker="circle", fill_color=BLUE, line_color=BLUE,
          fill_alpha=1, line_alpha=1, line_width=6)
p.scatter(dense_x, dense_y, size=22, marker="circle", fill_color=BLUE, line_color=BLUE,
          fill_alpha=1, line_alpha=1, line_width=0)

open("out.html", "w").write(file_html(p, INLINE))
